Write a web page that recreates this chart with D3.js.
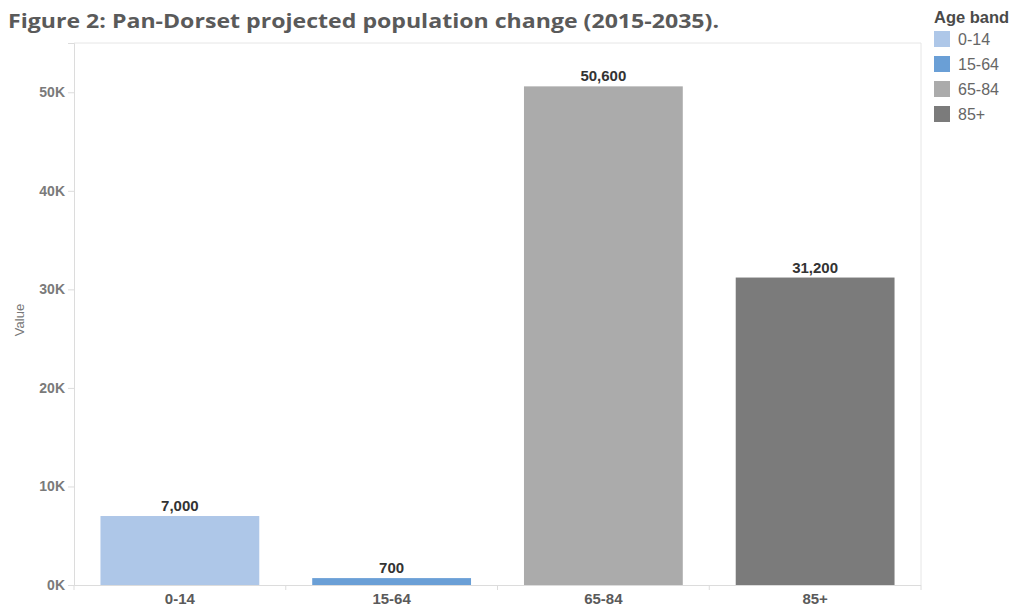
<!DOCTYPE html>
<html>
<head>
<meta charset="utf-8">
<script src="https://cdn.jsdelivr.net/npm/d3@7"></script>
<style>
  html, body { margin: 0; padding: 0; background: #fff; }
  svg { display: block; }
</style>
</head>
<body>
<script>
// Population change by age band, 2015-2035
const categories = ["0-14", "15-64", "65-84", "85+"];
const values = [7000, 700, 50600, 31200];
const colors = ["#aec7e8", "#6a9fd6", "#ababab", "#7b7b7b"];
const yTicks = [0, 10000, 20000, 30000, 40000, 50000];
const yTickLabels = ["0K", "10K", "20K", "30K", "40K", "50K"];

const W = 1021, H = 607;
const margin = { left: 74, top: 43 };
const plotRight = 921, plotBottom = 585;

const svg = d3.select("body").append("svg")
  .attr("width", W).attr("height", H)
  .style("font-family", "Arial, 'Liberation Sans', sans-serif");

// Title
svg.append("text")
  .attr("x", 8).attr("y", 28)
  .attr("font-family", "'Open Sans', 'DejaVu Sans', sans-serif")
  .attr("font-weight", "bold")
  .attr("font-size", 20)
  .attr("fill", "#5a5a5a")
  .attr("textLength", 711)
  .attr("lengthAdjust", "spacingAndGlyphs")
  .text("Figure 2: Pan-Dorset projected population change (2015-2035).");

const x = d3.scaleBand().domain(categories)
  .range([margin.left, plotRight]).paddingInner(0.25).paddingOuter(0.125);
const y = d3.scaleLinear().domain([0, 55000]).range([plotBottom, margin.top]);

// Plot frame (top and right edges)
svg.append("path")
  .attr("d", `M${margin.left},${margin.top}H${plotRight}V${plotBottom}`)
  .attr("fill", "none").attr("stroke", "#e6e6e6").attr("stroke-width", 1);

// Y axis
const yAxis = svg.append("g")
  .attr("transform", `translate(${margin.left},0)`)
  .call(d3.axisLeft(y).tickValues(yTicks)
    .tickFormat((d, i) => yTickLabels[i]).tickSize(6).tickPadding(3));
yAxis.select(".domain").attr("stroke", "#dcdcdc");
yAxis.selectAll(".tick line").attr("stroke", "#dcdcdc");
yAxis.selectAll(".tick text")
  .attr("fill", "#7a7a7a").attr("font-size", 14).attr("font-weight", "bold")
  .attr("font-family", "Arial, 'Liberation Sans', sans-serif");

// Y axis title
svg.append("text")
  .attr("transform", "translate(24,320) rotate(-90)")
  .attr("text-anchor", "middle")
  .attr("font-size", 13)
  .attr("fill", "#777")
  .text("Value");

// X axis with category boundary ticks
const xAxisG = svg.append("g");
xAxisG.append("line")
  .attr("x1", margin.left).attr("x2", plotRight)
  .attr("y1", plotBottom + 0.5).attr("y2", plotBottom + 0.5)
  .attr("stroke", "#dcdcdc");
const bounds = categories.map(c => x(c) - x.step() * x.paddingInner() / 2);
bounds.push(plotRight);
xAxisG.selectAll(".btick").data(bounds).join("line")
  .attr("x1", d => d).attr("x2", d => d)
  .attr("y1", plotBottom).attr("y2", plotBottom + 5)
  .attr("stroke", "#dcdcdc");
xAxisG.selectAll(".clabel").data(categories).join("text")
  .attr("x", d => x(d) + x.bandwidth() / 2)
  .attr("y", 604)
  .attr("text-anchor", "middle")
  .attr("font-size", 15).attr("font-weight", "bold")
  .attr("fill", "#5a5a5a")
  .text(d => d);

// Bars
const data = categories.map((c, i) => ({ c, v: values[i], color: colors[i] }));
svg.selectAll(".bar").data(data).join("rect")
  .attr("x", d => x(d.c)).attr("width", x.bandwidth())
  .attr("y", d => y(d.v)).attr("height", d => y(0) - y(d.v))
  .attr("fill", d => d.color);

// Value labels
svg.selectAll(".vlabel").data(data).join("text")
  .attr("x", d => x(d.c) + x.bandwidth() / 2)
  .attr("y", d => y(d.v) - 5)
  .attr("text-anchor", "middle")
  .attr("font-size", 15).attr("font-weight", "bold")
  .attr("fill", "#333")
  .text(d => d3.format(",")(d.v));

// Legend
const lg = svg.append("g").attr("transform", "translate(933,0)");
lg.append("text").attr("x", 1).attr("y", 23)
  .attr("font-size", 16.5).attr("font-weight", "bold").attr("fill", "#4a4a4a")
  .text("Age band");
const items = lg.selectAll(".li").data(data).join("g")
  .attr("transform", (d, i) => `translate(0,${31 + i * 25})`);
items.append("rect").attr("x", 1).attr("width", 16).attr("height", 16)
  .attr("fill", d => d.color);
items.append("text").attr("x", 25).attr("y", 14)
  .attr("font-size", 16).attr("fill", "#666")
  .text(d => d.c);
</script>
</body>
</html>
